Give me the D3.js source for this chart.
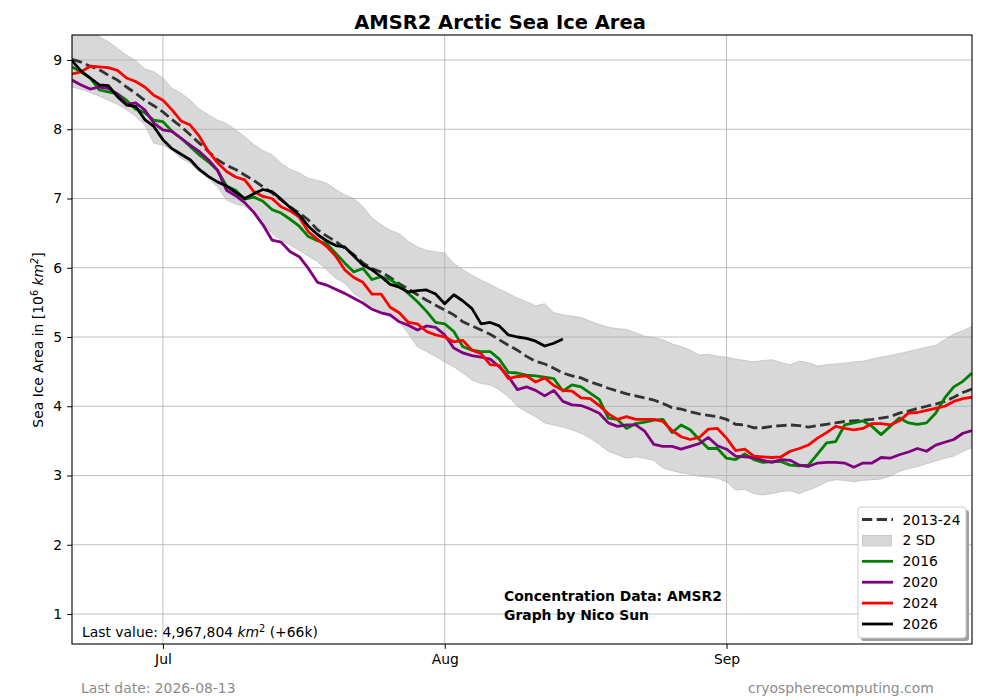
<!DOCTYPE html>
<html>
<head>
<meta charset="UTF-8">
<title>AMSR2 Arctic Sea Ice Area</title>
<script src="https://d3js.org/d3.v7.min.js"></script>
<style>
  body { margin: 0; background: #fff; }
  svg { font-family: "DejaVu Sans", sans-serif; }
  .grid line { stroke: #b0b0b0; stroke-width: 0.8px; }
  .tick text { font-size: 13.9px; fill: #000; }
  .tick line { stroke: #000; stroke-width: 1px; }
</style>
</head>
<body>
<svg width="1000" height="700"></svg>
<script>
// day 0 = 21 June, one value per day (10^6 km2)
const startDate = new Date(2026, 5, 21);
const endDate = new Date(2026, 8, 28);

const mean = [9.01, 8.97, 8.91, 8.86, 8.78, 8.71, 8.61, 8.52, 8.42, 8.34, 8.25, 8.14, 8.04, 7.92, 7.80, 7.68, 7.56, 7.48,
  7.42, 7.34, 7.26, 7.17, 7.08, 6.98, 6.88, 6.79, 6.69, 6.55, 6.46, 6.38, 6.28, 6.19, 6.07, 5.99,
  5.94, 5.86, 5.77, 5.69, 5.61, 5.53, 5.46, 5.39, 5.32, 5.22, 5.16, 5.10, 5.04, 4.96, 4.88, 4.81, 4.72,
  4.65, 4.61, 4.55, 4.48, 4.44, 4.41, 4.35, 4.31, 4.26, 4.22, 4.18, 4.15, 4.12, 4.09, 4.04, 3.98,
  3.96, 3.92, 3.89, 3.87, 3.85, 3.81, 3.74, 3.73, 3.69, 3.69, 3.71, 3.72, 3.73, 3.72, 3.70, 3.72,
  3.74, 3.76, 3.78, 3.79, 3.80, 3.81, 3.83, 3.85, 3.90, 3.93, 3.97, 4.00, 4.03, 4.07, 4.13, 4.20, 4.25];

const sdUpper = [9.45, 9.45, 9.42, 9.34, 9.26, 9.17, 9.07, 8.99, 8.87, 8.83, 8.74, 8.59, 8.52, 8.42, 8.29, 8.21, 8.13, 8.08,
  7.99, 7.89, 7.78, 7.69, 7.63, 7.51, 7.42, 7.37, 7.29, 7.26, 7.22, 7.13, 7.05, 7.00, 6.88, 6.72,
  6.62, 6.54, 6.49, 6.38, 6.30, 6.25, 6.23, 6.21, 6.06, 5.97, 5.89, 5.82, 5.76, 5.69, 5.63, 5.56, 5.51,
  5.45, 5.48, 5.35, 5.32, 5.30, 5.28, 5.23, 5.18, 5.14, 5.12, 5.11, 5.06, 5.01, 4.99, 4.96, 4.90,
  4.86, 4.81, 4.74, 4.75, 4.72, 4.71, 4.68, 4.66, 4.64, 4.66, 4.67, 4.63, 4.60, 4.65, 4.63, 4.58,
  4.60, 4.61, 4.62, 4.64, 4.65, 4.68, 4.71, 4.73, 4.76, 4.79, 4.82, 4.85, 4.88, 4.96, 5.04, 5.09, 5.15];

const sdLower = [8.61, 8.58, 8.53, 8.48, 8.42, 8.36, 8.28, 8.19, 8.06, 7.80, 7.77, 7.70, 7.58, 7.51, 7.39, 7.29, 7.17, 6.98,
  6.92, 6.89, 6.79, 6.64, 6.50, 6.40, 6.33, 6.25, 6.17, 6.09, 5.97, 5.85, 5.78, 5.63, 5.54, 5.40,
  5.34, 5.29, 5.22, 5.05, 4.86, 4.79, 4.72, 4.64, 4.57, 4.48, 4.38, 4.33, 4.31, 4.24, 4.14, 4.00, 3.92,
  3.85, 3.76, 3.73, 3.70, 3.66, 3.61, 3.54, 3.45, 3.35, 3.30, 3.25, 3.27, 3.25, 3.22, 3.11, 3.07,
  3.04, 3.02, 2.99, 2.98, 2.96, 2.91, 2.79, 2.80, 2.74, 2.72, 2.74, 2.77, 2.78, 2.74, 2.79, 2.84,
  2.91, 2.94, 2.93, 2.91, 2.93, 2.94, 2.95, 2.99, 3.06, 3.10, 3.13, 3.17, 3.21, 3.25, 3.28, 3.35, 3.40];

const y2016 = [8.90, 8.83, 8.74, 8.57, 8.54, 8.51, 8.42, 8.29, 8.24, 8.13, 8.11, 7.97, 7.87, 7.75, 7.63, 7.53, 7.41, 7.18,
  7.12, 6.99, 7.02, 6.96, 6.84, 6.79, 6.70, 6.60, 6.45, 6.39, 6.35, 6.21, 6.07, 5.94, 5.99, 5.83,
  5.87, 5.83, 5.74, 5.63, 5.51, 5.37, 5.21, 5.19, 5.08, 4.86, 4.81, 4.79, 4.79, 4.68, 4.49, 4.48, 4.45,
  4.44, 4.42, 4.40, 4.22, 4.31, 4.28, 4.19, 4.10, 3.83, 3.81, 3.68, 3.75, 3.77, 3.80, 3.81, 3.62,
  3.73, 3.66, 3.52, 3.39, 3.39, 3.25, 3.23, 3.31, 3.23, 3.19, 3.20, 3.20, 3.15, 3.14, 3.15, 3.31,
  3.47, 3.49, 3.73, 3.76, 3.79, 3.71, 3.59, 3.71, 3.83, 3.76, 3.74, 3.76, 3.90, 4.12, 4.28, 4.36, 4.48];

const y2020 = [8.71, 8.64, 8.58, 8.61, 8.59, 8.51, 8.36, 8.38, 8.28, 8.09, 7.99, 7.97, 7.87, 7.77, 7.68, 7.56, 7.41, 7.12,
  7.04, 6.94, 6.80, 6.62, 6.40, 6.37, 6.23, 6.16, 5.99, 5.79, 5.75, 5.69, 5.63, 5.56, 5.49, 5.40,
  5.35, 5.32, 5.22, 5.17, 5.10, 5.16, 5.14, 5.03, 4.84, 4.77, 4.73, 4.71, 4.68, 4.57, 4.43, 4.24, 4.28,
  4.23, 4.15, 4.23, 4.07, 4.02, 4.01, 3.96, 3.90, 3.76, 3.71, 3.73, 3.73, 3.64, 3.45, 3.42, 3.42,
  3.38, 3.42, 3.46, 3.55, 3.43, 3.38, 3.28, 3.27, 3.26, 3.22, 3.19, 3.23, 3.22, 3.15, 3.13, 3.18,
  3.19, 3.19, 3.18, 3.12, 3.18, 3.18, 3.26, 3.25, 3.30, 3.34, 3.39, 3.35, 3.44, 3.48, 3.52, 3.61, 3.65];

const y2024 = [8.80, 8.83, 8.91, 8.90, 8.89, 8.85, 8.74, 8.69, 8.61, 8.49, 8.42, 8.28, 8.12, 8.06, 7.90, 7.68, 7.52, 7.39,
  7.31, 7.27, 7.10, 7.03, 7.00, 6.88, 6.82, 6.73, 6.52, 6.41, 6.31, 6.17, 5.97, 5.86, 5.79, 5.62,
  5.62, 5.43, 5.35, 5.21, 5.19, 5.08, 5.03, 5.00, 4.93, 4.95, 4.81, 4.76, 4.60, 4.59, 4.40, 4.43, 4.44,
  4.35, 4.41, 4.30, 4.23, 4.22, 4.12, 4.11, 4.01, 3.89, 3.81, 3.85, 3.81, 3.81, 3.81, 3.78, 3.65,
  3.56, 3.52, 3.55, 3.67, 3.68, 3.54, 3.36, 3.38, 3.28, 3.27, 3.26, 3.27, 3.35, 3.39, 3.44, 3.54,
  3.62, 3.71, 3.68, 3.66, 3.68, 3.75, 3.75, 3.73, 3.79, 3.90, 3.91, 3.94, 3.97, 4.00, 4.07, 4.11, 4.13];

const y2026 = [8.99, 8.84, 8.74, 8.64, 8.63, 8.47, 8.35, 8.33, 8.14, 8.04, 7.85, 7.72, 7.64, 7.56, 7.42, 7.32, 7.24, 7.18,
  7.09, 7.00, 7.07, 7.13, 7.10, 6.99, 6.87, 6.76, 6.60, 6.48, 6.39, 6.32, 6.30, 6.17, 6.04, 5.97,
  5.87, 5.76, 5.72, 5.65, 5.67, 5.68, 5.62, 5.48, 5.61, 5.52, 5.41, 5.19, 5.21, 5.16, 5.03, 5.00, 4.98,
  4.94, 4.87, 4.91, 4.97];

const yTicks = [1, 2, 3, 4, 5, 6, 7, 8, 9];
const monthTicks = [new Date(2026, 6, 1), new Date(2026, 7, 1), new Date(2026, 8, 1)];

const years = [
  { name: "2016", values: y2016, color: "#008000" },
  { name: "2020", values: y2020, color: "#800080" },
  { name: "2024", values: y2024, color: "#ff0000" },
  { name: "2026", values: y2026, color: "#000000" }
];

const svg = d3.select("svg");
const plotLeft = 72, plotRight = 972, plotTop = 35, plotBottom = 644;

const x = d3.scaleTime().domain([startDate, endDate]).range([plotLeft, plotRight]);
const y = d3.scaleLinear().domain([0.567, 9.361]).range([plotBottom, plotTop]);
const day = i => d3.timeDay.offset(startDate, i);

svg.append("defs").append("clipPath").attr("id", "plot")
  .append("rect").attr("x", plotLeft).attr("y", plotTop)
  .attr("width", plotRight - plotLeft).attr("height", plotBottom - plotTop);

const plot = svg.append("g").attr("clip-path", "url(#plot)");

// 2 SD band
const band = d3.area()
  .x((d, i) => x(day(i)))
  .y0((d, i) => y(sdLower[i]))
  .y1(d => y(d));
plot.append("path")
  .datum(sdUpper)
  .attr("d", band)
  .attr("fill", "#d8d8d8")
  .attr("stroke", "#c8c8c8")
  .attr("stroke-width", 1);

// grid
const grid = plot.append("g").attr("class", "grid");
grid.selectAll(".h").data(yTicks).enter().append("line")
  .attr("x1", plotLeft).attr("x2", plotRight)
  .attr("y1", d => y(d)).attr("y2", d => y(d));
grid.selectAll(".v").data(monthTicks).enter().append("line")
  .attr("x1", d => x(d)).attr("x2", d => x(d))
  .attr("y1", plotTop).attr("y2", plotBottom);

const line = d3.line()
  .x((d, i) => x(day(i)))
  .y(d => y(d));

plot.append("path")
  .datum(mean)
  .attr("d", line)
  .attr("fill", "none")
  .attr("stroke", "#333333")
  .attr("stroke-width", 2.8)
  .attr("stroke-dasharray", "10.3,4.4");

years.forEach(s => {
  plot.append("path")
    .datum(s.values)
    .attr("d", line)
    .attr("fill", "none")
    .attr("stroke", s.color)
    .attr("stroke-width", 2.8)
    .attr("stroke-linejoin", "round");
});

// axes
svg.append("g")
  .attr("transform", `translate(${plotLeft},0)`)
  .call(d3.axisLeft(y).tickValues(yTicks).tickSize(4.9).tickPadding(4.9).tickFormat(d3.format("d")))
  .call(g => g.select(".domain").remove());

svg.append("g")
  .attr("transform", `translate(0,${plotBottom})`)
  .call(d3.axisBottom(x).tickValues(monthTicks).tickSize(4.9).tickPadding(4.9).tickFormat(d3.timeFormat("%b")))
  .call(g => g.select(".domain").remove());

svg.selectAll(".tick text").attr("font-family", "DejaVu Sans");

svg.append("rect")
  .attr("x", plotLeft).attr("y", plotTop)
  .attr("width", plotRight - plotLeft).attr("height", plotBottom - plotTop)
  .attr("fill", "none").attr("stroke", "#000").attr("stroke-width", 1.1);

// title and labels
svg.append("text")
  .attr("x", 500).attr("y", 29)
  .attr("text-anchor", "middle")
  .style("font-size", "19.5px").style("font-weight", "bold")
  .text("AMSR2 Arctic Sea Ice Area");

const ylab = svg.append("text")
  .attr("transform", "translate(43,340) rotate(-90)")
  .attr("text-anchor", "middle")
  .style("font-size", "13.9px");
ylab.append("tspan").text("Sea Ice Area in [10");
ylab.append("tspan").attr("dy", -5).style("font-size", "9.7px").text("6");
ylab.append("tspan").attr("dy", 5).text(" ");
ylab.append("tspan").style("font-style", "italic").text("km");
ylab.append("tspan").attr("dy", -5).style("font-size", "9.7px").style("font-style", "italic").text("2");
ylab.append("tspan").attr("dy", 5).text("]");

const last = svg.append("text")
  .attr("x", 82).attr("y", 637)
  .style("font-size", "13.9px");
last.append("tspan").text("Last value: 4,967,804 ");
last.append("tspan").style("font-style", "italic").text("km");
last.append("tspan").attr("dy", -5).style("font-size", "9.7px").text("2");
last.append("tspan").attr("dy", 5).text(" (+66k)");

svg.append("text")
  .attr("x", 504).attr("y", 601)
  .style("font-size", "13.9px").style("font-weight", "bold")
  .text("Concentration Data: AMSR2");
svg.append("text")
  .attr("x", 504).attr("y", 620)
  .style("font-size", "13.9px").style("font-weight", "bold")
  .text("Graph by Nico Sun");

svg.append("text")
  .attr("x", 81).attr("y", 693)
  .style("font-size", "13.9px").attr("fill", "#8c8c8c")
  .text("Last date: 2026-08-13");
svg.append("text")
  .attr("x", 748).attr("y", 693)
  .style("font-size", "13.9px").attr("fill", "#8c8c8c")
  .text("cryospherecomputing.com");

// legend
const legendItems = [
  { name: "2013-24", type: "dash", color: "#333333" },
  { name: "2 SD", type: "patch", color: "#d8d8d8" }
].concat(years.map(s => ({ name: s.name, type: "line", color: s.color })));

const legend = svg.append("g").attr("transform", "translate(858,507)");
legend.append("rect")
  .attr("x", 3).attr("y", 3).attr("width", 108).attr("height", 131).attr("rx", 3)
  .attr("fill", "#a0a0a0");
legend.append("rect")
  .attr("width", 108).attr("height", 131).attr("rx", 3)
  .attr("fill", "#fff").attr("stroke", "#cccccc").attr("stroke-width", 1);

legendItems.forEach((d, i) => {
  const cy = 12.5 + i * 20.9;
  if (d.type === "patch") {
    legend.append("rect")
      .attr("x", 4.5).attr("y", cy - 5).attr("width", 29).attr("height", 10.5)
      .attr("fill", d.color).attr("stroke", "#c8c8c8").attr("stroke-width", 1);
  } else {
    legend.append("line")
      .attr("x1", 4).attr("x2", 35).attr("y1", cy).attr("y2", cy)
      .attr("stroke", d.color).attr("stroke-width", 2.8)
      .attr("stroke-dasharray", d.type === "dash" ? "10.3,4.4" : null);
  }
  legend.append("text")
    .attr("x", 44.5).attr("y", cy + 5)
    .style("font-size", "13.9px")
    .text(d.name);
});
</script>
</body>
</html>
